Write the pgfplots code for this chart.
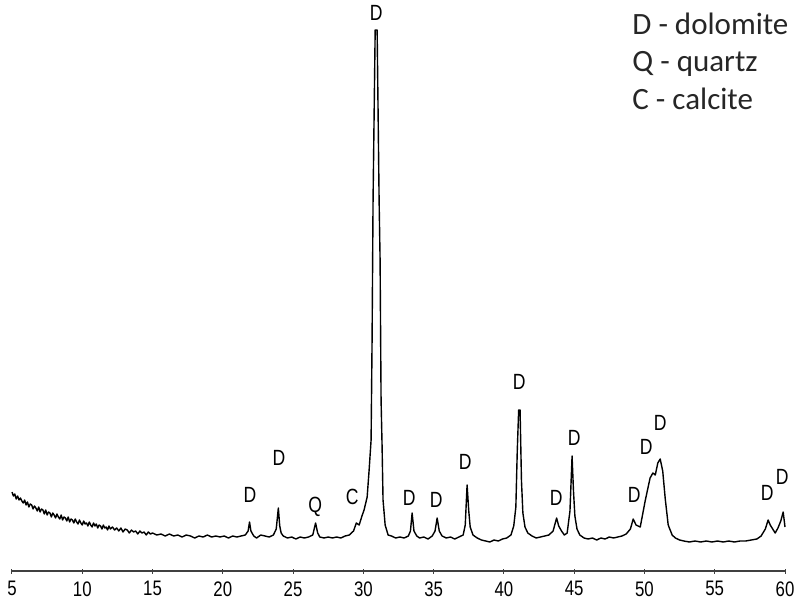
\documentclass[border=0pt]{standalone}
\usepackage{pgfplots}
\pgfplotsset{compat=1.18}
\usepackage{fontspec}
\setmainfont{Liberation Sans}
\newfontfamily\tickfont{Liberation Sans}[FakeStretch=0.8]
\newfontfamily\legfont{Carlito}
\begin{document}
\begin{tikzpicture}[x=1pt,y=1pt]
\useasboundingbox (0,0) rectangle (800,600);
\begin{axis}[
  at={(12pt,29pt)}, anchor=south west,
  scale only axis, width=773pt, height=571pt,
  xmin=5, xmax=60, ymin=0, ymax=571,
  axis x line=bottom, axis y line=none,
  x axis line style={-, line width=1.6pt, color=black!75},
  xtick={5,10,...,60},
  tick align=center, major tick length=5pt,
  every tick/.style={black!75, line width=1pt},
  xticklabel style={font=\tickfont\fontsize{21}{21}\selectfont, yshift=-4.5pt},
  /pgf/number format/assume math mode=true,
  clip=false,
]
\addplot[black, line width=1.4pt, line join=round] coordinates {
(5.0,79)(5.1,75)(5.2,77)(5.3,72)(5.4,75)(5.5,71)(5.6,73)(5.7,70)(5.8,68)(5.9,71)
(6.0,66)(6.1,69)(6.2,64)(6.3,67)(6.4,66)(6.5,62)(6.6,65)(6.7,63)(6.8,60)(6.9,64)
(7.0,59)(7.1,62)(7.2,61)(7.3,57)(7.4,61)(7.5,56)(7.6,59)(7.7,58)(7.8,54)(7.9,58)
(8.0,56)(8.1,53)(8.2,57)(8.3,54)(8.4,52)(8.5,56)(8.6,51)(8.7,54)(8.8,53)(8.9,50)
(9.0,54)(9.1,49)(9.2,52)(9.3,51)(9.4,48)(9.5,52)(9.6,49)(9.7,47)(9.8,51)(9.9,48)
(10.0,46)(10.1,50)(10.2,47)(10.3,48)(10.4,45)(10.5,49)(10.6,46)(10.7,44)(10.8,48)(10.9,45)
(11.0,47)(11.1,43)(11.2,46)(11.3,45)(11.4,42)(11.5,46)(11.6,43)(11.7,44)(11.8,41)(11.9,45)
(12.0,42)(12.15,44)(12.3,41)(12.45,43)(12.6,40)(12.75,43)(12.9,39)(13.05,42)(13.2,41)(13.35,38)
(13.5,41)(13.65,39)(13.8,40)(13.95,37)(14.1,40)(14.25,38)(14.4,39)(14.55,36)(14.7,39)(14.85,37)
(15.0,38)(15.3,36)(15.6,37)(15.9,35)(16.2,37)(16.5,35)(16.8,36)(17.1,34)
(17.4,36)(17.7,35)(18.0,33)(18.3,35)(18.6,34)(18.9,36)(19.2,34)(19.5,35)(19.8,34)(20.1,35)
(20.4,33)(20.7,35)(21.0,34)(21.3,35)(21.6,36)(21.8,40)(21.9,49)(22.0,40)(22.2,35)(22.4,33)
(22.7,36)(23.0,35)(23.3,34)(23.6,36)(23.8,42)(23.95,63)(24.05,45)(24.15,38)(24.3,35)(24.6,33)
(24.9,34)(25.2,32)(25.5,34)(25.8,33)(26.1,34)(26.4,36)(26.6,48)(26.75,38)(26.9,34)(27.2,33)
(27.5,34)(27.8,33)(28.1,34)(28.4,33)(28.7,35)(29.0,36)(29.3,40)(29.5,48)(29.7,46)(29.9,55)
(30.05,61)(30.27,74)(30.41,101)(30.55,131)(30.62,231)(30.69,371)(30.84,541)(30.98,541)(31.12,371)(31.19,311)
(31.26,171)(31.33,126)(31.40,71)(31.55,46)(31.76,36)(32.0,35)(32.3,33)(32.6,34)(32.9,33)(33.2,35)
(33.35,40)(33.47,58)(33.6,40)(33.8,35)(34.0,33)(34.3,34)(34.6,32)(34.9,35)(35.1,40)(35.25,53)
(35.4,40)(35.6,35)(35.9,33)(36.2,34)(36.5,32)(36.8,34)(37.1,36)(37.25,46)(37.38,86)(37.5,60)
(37.6,44)(37.8,36)(38.1,33)(38.4,31)(38.7,30)(39.0,29)(39.3,31)(39.6,30)(39.9,32)(40.2,33)
(40.5,36)(40.7,45)(40.85,64)(40.95,120)(41.05,161)(41.15,161)(41.25,90)(41.35,58)(41.5,44)(41.7,38)
(42.0,35)(42.3,33)(42.6,34)(42.9,35)(43.2,36)(43.5,40)(43.75,53)(43.9,45)(44.1,40)(44.3,36)
(44.5,38)(44.7,60)(44.85,115)(44.95,80)(45.05,55)(45.2,42)(45.4,36)(45.7,33)(46.0,32)(46.3,33)
(46.6,31)(46.9,33)(47.2,32)(47.5,34)(47.8,33)(48.1,34)(48.4,35)(48.7,37)(49.0,42)(49.2,52)
(49.4,46)(49.7,44)(50.05,70)(50.4,93)(50.6,98)(50.77,96)(50.95,108)(51.12,112)(51.3,100)(51.48,72)
(51.69,46)(51.97,36)(52.2,33)(52.5,31)(52.8,30)(53.2,29)(53.6,30)(54.0,29)(54.4,30)(54.8,29)
(55.2,30)(55.6,29)(56.0,30)(56.4,29)(56.8,30)(57.2,30)(57.6,31)(58.0,32)(58.3,35)(58.6,42)
(58.8,51)(58.95,46)(59.3,38)(59.5,43)(59.7,50)(59.87,59)(60.0,44)
};
\begin{scope}[every node/.style={font=\tickfont\fontsize{22}{22}\selectfont, inner sep=0pt}]
\node at (axis cs:21.94,76) {D};
\node at (axis cs:24.0,113) {D};
\node at (axis cs:26.57,64) {Q};
\node at (axis cs:29.2,74) {C};
\node at (axis cs:30.91,558) {D};
\node at (axis cs:33.26,73) {D};
\node at (axis cs:35.18,71) {D};
\node at (axis cs:37.24,109) {D};
\node at (axis cs:41.09,189) {D};
\node at (axis cs:43.72,73) {D};
\node at (axis cs:45.0,133) {D};
\node at (axis cs:49.27,76) {D};
\node at (axis cs:50.12,124) {D};
\node at (axis cs:51.12,148) {D};
\node at (axis cs:58.74,78) {D};
\node at (axis cs:59.8,94) {D};
\end{scope}
\begin{scope}[every node/.style={font=\legfont\fontsize{31}{31}\selectfont, inner sep=0pt, anchor=base west, text=black!85}]
\node at (axis cs:49.13,536) {D - dolomite};
\node at (axis cs:49.13,499) {Q - quartz};
\node at (axis cs:49.13,461) {C - calcite};
\end{scope}
\end{axis}
\end{tikzpicture}
\end{document}
